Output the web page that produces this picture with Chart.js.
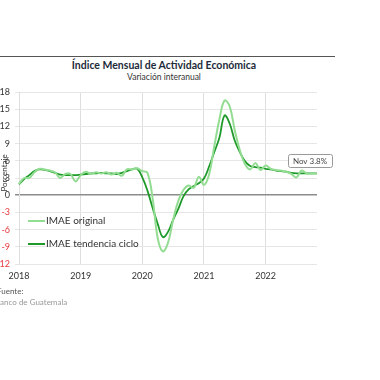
<!DOCTYPE html>
<html>
<head>
<meta charset="utf-8">
<script src="https://cdn.jsdelivr.net/npm/chart.js@4.4.1/dist/chart.umd.min.js"></script>
<style>
  html, body { margin: 0; padding: 0; background: #fff; }
  #wrap { position: relative; width: 380px; height: 380px; overflow: hidden; font-family: "Lato", "Open Sans", sans-serif; }
  #c { position: absolute; left: 0; top: 0; }
  .topline { position: absolute; left: 0; top: 56px; width: 335px; height: 0; border-top: 1px solid #555; }
  .title { position: absolute; left: 0; width: 328px; top: 59px; text-align: center; font-weight: bold; font-size: 10.5px; color: #1d2b3a; }
  .sub { position: absolute; left: 0; width: 328px; top: 72px; text-align: center; font-size: 8.5px; color: #333; }
  .src1 { position: absolute; left: -3px; top: 286px; font-size: 8px; color: #555; }
  .src2 { position: absolute; left: -5px; top: 297px; font-size: 8px; color: #999; }
</style>
</head>
<body>
<div id="wrap">
  <div class="topline"></div>
  <div class="title">Índice Mensual de Actividad Económica</div>
  <div class="sub">Variación interanual</div>
  <canvas id="c" width="380" height="380"></canvas>
  <div class="src1">Fuente:</div>
  <div class="src2">Banco de Guatemala</div>
</div>
<script>
// ---- data ----
const years = [2018, 2019, 2020, 2021, 2022];
const monthNames = ['Ene','Feb','Mar','Abr','May','Jun','Jul','Ago','Sep','Oct','Nov','Dic'];
const lastMonthLabel = 'Nov';
const yTicks = [-12, -9, -6, -3, 0, 3, 6, 9, 12, 15, 18];

const imaeOriginal = [
  2.0, 3.0, 3.0, 4.0, 4.6, 4.5, 4.3, 4.0, 3.0, 3.7, 3.7, 2.4,
  3.5, 4.1, 3.7, 4.0, 3.8, 4.0, 3.6, 3.9, 3.4, 4.5, 4.5, 4.7,
  4.2, 3.9, -0.5, -7.5, -9.8, -8.3, -4.3, -1.0, 0.9, 1.7, 1.3, 3.2,
  1.8, 3.6, 8.5, 13.2, 16.5, 15.5, 11.3, 7.8, 5.4, 4.5, 5.6, 4.4,
  5.2, 4.6, 4.4, 4.3, 4.1, 3.7, 3.1, 4.3, 3.8, 3.8, 3.8
];
const imaeTendencia = [
  1.9, 2.8, 3.5, 4.2, 4.5, 4.4, 4.2, 3.9, 3.6, 3.5, 3.5, 3.5,
  3.6, 3.7, 3.8, 3.8, 3.9, 3.8, 3.8, 3.7, 3.9, 4.2, 4.5, 4.6,
  3.1, 0.8, -2.2, -5.0, -7.3, -6.4, -4.3, -2.4, -0.2, 1.0, 1.6, 2.1,
  2.9, 5.0, 7.5, 10.0, 13.9, 12.5, 9.5, 7.5, 5.9, 5.1, 4.9, 4.8,
  4.6, 4.5, 4.3, 4.2, 4.1, 3.9, 3.8, 3.8, 3.8, 3.8, 3.8
];

// categories (monthly)
const labels = [];
for (const y of years) for (let m = 0; m < 12; m++) {
  if (labels.length < imaeTendencia.length) labels.push(monthNames[m] + ' ' + y);
}

const FONT = '"Lato", "Open Sans", sans-serif';

const legendPlugin = {
  id: 'innerLegend',
  afterDraw(chart) {
    const ctx = chart.ctx;
    const ys = [221, 244];
    ctx.save();
    chart.data.datasets.forEach((ds, i) => {
      ctx.strokeStyle = ds.borderColor;
      ctx.lineWidth = 2;
      ctx.beginPath();
      ctx.moveTo(28, ys[i]);
      ctx.lineTo(45, ys[i]);
      ctx.stroke();
      ctx.fillStyle = '#333';
      ctx.font = '10px ' + FONT;
      ctx.textBaseline = 'middle';
      ctx.textAlign = 'left';
      ctx.fillText(ds.label, 46, ys[i]);
    });
    // y axis title
    ctx.translate(4, 173);
    ctx.rotate(-Math.PI / 2);
    ctx.font = '8px ' + FONT;
    ctx.fillStyle = '#333';
    ctx.textAlign = 'center';
    ctx.textBaseline = 'middle';
    ctx.fillText('Porcentaje', 0, 0);
    ctx.restore();

    // end annotation
    const xs = chart.scales.x, yS = chart.scales.y;
    const n = imaeTendencia.length - 1;
    const v = imaeTendencia[n];
    const px = xs.getPixelForValue(n) - 7;
    const py = yS.getPixelForValue(v) - 12.5;
    const txt = lastMonthLabel + ' ' + v.toFixed(1) + '%';
    ctx.save();
    ctx.font = '8px ' + FONT;
    const w = 44, h = 13;
    ctx.fillStyle = '#fff';
    ctx.strokeStyle = '#999';
    ctx.lineWidth = 1;
    ctx.beginPath();
    ctx.roundRect(Math.round(px - w / 2) + 0.5, Math.round(py - h / 2) + 0.5, w, h, 2);
    ctx.fill();
    ctx.stroke();
    ctx.fillStyle = '#444';
    ctx.textAlign = 'center';
    ctx.textBaseline = 'middle';
    ctx.fillText(txt, px, py + 0.5);
    ctx.restore();
  }
};

new Chart(document.getElementById('c'), {
  type: 'line',
  data: {
    labels: labels,
    datasets: [
      { label: 'IMAE original', data: imaeOriginal, borderColor: '#93dd93', borderWidth: 2, pointRadius: 0, tension: 0.4, fill: false },
      { label: 'IMAE tendencia ciclo', data: imaeTendencia, borderColor: '#1f9a2a', borderWidth: 1.8, pointRadius: 0, tension: 0.4, fill: false }
    ]
  },
  options: {
    responsive: false,
    animation: false,
    devicePixelRatio: 1,
    layout: { padding: { left: 0, right: 63, top: 92, bottom: 96 } },
    plugins: { legend: { display: false }, tooltip: { enabled: false }, title: { display: false } },
    scales: {
      x: {
        type: 'category',
        offset: false,
        afterFit: (s) => { s.height = 20; },
        border: { display: false },
        grid: {
          drawTicks: false,
          color: (c) => (c.index % 12 === 0 ? '#dedede' : 'rgba(0,0,0,0)'),
          lineWidth: 1
        },
        ticks: {
          autoSkip: false,
          maxRotation: 0,
          padding: 7,
          color: '#333',
          font: { family: FONT, size: 9 },
          callback: function (val, idx) { return idx % 12 === 0 ? String(years[idx / 12]) : ''; }
        }
      },
      y: {
        min: yTicks[0],
        max: yTicks[yTicks.length - 1],
        afterFit: (s) => { s.width = 19; },
        afterBuildTicks: (s) => { s.ticks = yTicks.map(v => ({ value: v })); },
        border: { display: true, color: '#dedede' },
        grid: {
          tickLength: 4,
          color: (c) => (c.tick && c.tick.value === 0 ? '#8c8c8c' : '#e6e6e6'),
          lineWidth: (c) => (c.tick && c.tick.value === 0 ? 1.5 : 1)
        },
        ticks: {
          padding: 5,
          font: { family: FONT, size: 9 },
          color: (c) => (c.tick && c.tick.value < 0 ? '#e8383d' : '#333'),
          callback: (v) => String(v)
        }
      }
    }
  },
  plugins: [legendPlugin]
});
</script>
</body>
</html>
